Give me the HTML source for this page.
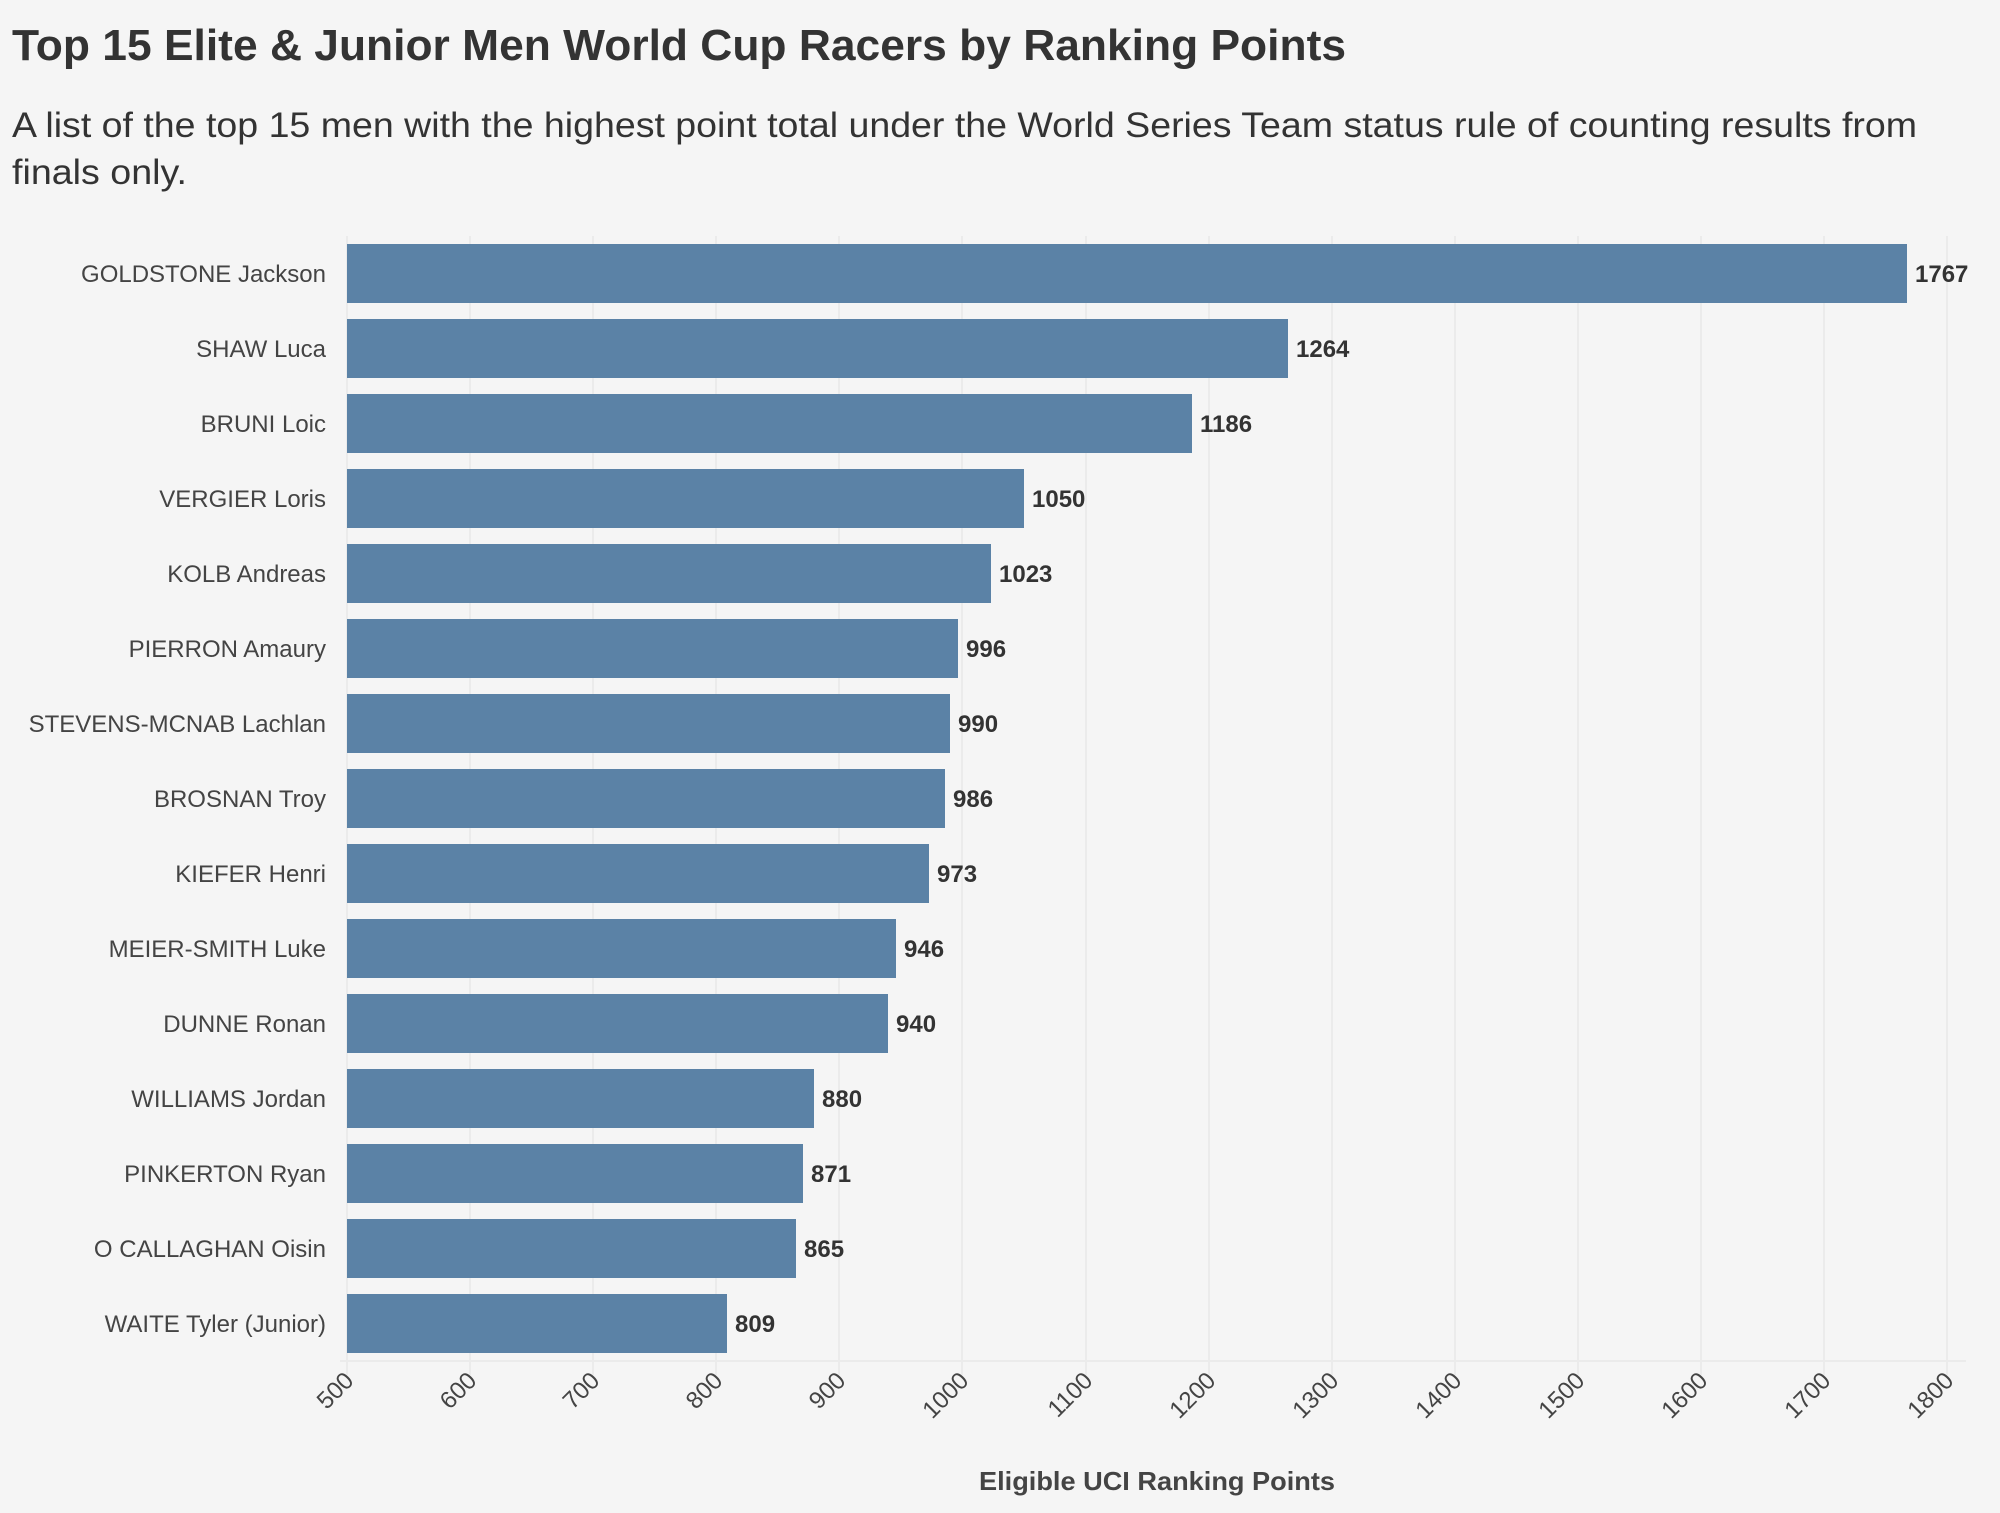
<!DOCTYPE html>
<html><head><meta charset="utf-8"><style>
html,body{margin:0;padding:0;background:#f5f5f5;}
svg{display:block;font-family:"Liberation Sans",sans-serif;}
</style></head><body>
<svg width="2000" height="1513" viewBox="0 0 2000 1513" xmlns="http://www.w3.org/2000/svg">
<rect width="2000" height="1513" fill="#f5f5f5"/>
<text x="12" y="60" font-size="44" font-weight="bold" fill="#333" textLength="1334" lengthAdjust="spacingAndGlyphs">Top 15 Elite &amp; Junior Men World Cup Racers by Ranking Points</text>
<text x="12" y="137" font-size="35" fill="#333" textLength="1905" lengthAdjust="spacingAndGlyphs">A list of the top 15 men with the highest point total under the World Series Team status rule of counting results from</text>
<text x="12" y="184" font-size="35" fill="#333" textLength="175" lengthAdjust="spacingAndGlyphs">finals only.</text>
<g id="grid" stroke="#ebebeb" stroke-width="2">
<line x1="347" y1="236" x2="347" y2="1375"/><line x1="470" y1="236" x2="470" y2="1375"/><line x1="593" y1="236" x2="593" y2="1375"/><line x1="716" y1="236" x2="716" y2="1375"/><line x1="839" y1="236" x2="839" y2="1375"/><line x1="962" y1="236" x2="962" y2="1375"/><line x1="1086" y1="236" x2="1086" y2="1375"/><line x1="1209" y1="236" x2="1209" y2="1375"/><line x1="1332" y1="236" x2="1332" y2="1375"/><line x1="1455" y1="236" x2="1455" y2="1375"/><line x1="1578" y1="236" x2="1578" y2="1375"/><line x1="1701" y1="236" x2="1701" y2="1375"/><line x1="1824" y1="236" x2="1824" y2="1375"/><line x1="1947" y1="236" x2="1947" y2="1375"/>
<line x1="340" y1="1361" x2="1966" y2="1361"/>
</g>
<g fill="#5b82a6">
<rect x="347" y="244" width="1560" height="59"/>
<rect x="347" y="319" width="941" height="59"/>
<rect x="347" y="394" width="845" height="59"/>
<rect x="347" y="469" width="677" height="59"/>
<rect x="347" y="544" width="644" height="59"/>
<rect x="347" y="619" width="611" height="59"/>
<rect x="347" y="694" width="603" height="59"/>
<rect x="347" y="769" width="598" height="59"/>
<rect x="347" y="844" width="582" height="59"/>
<rect x="347" y="919" width="549" height="59"/>
<rect x="347" y="994" width="541" height="59"/>
<rect x="347" y="1069" width="467" height="59"/>
<rect x="347" y="1144" width="456" height="59"/>
<rect x="347" y="1219" width="449" height="59"/>
<rect x="347" y="1294" width="380" height="59"/>
</g>
<g font-size="24" fill="#444" text-anchor="end">
<text x="326" y="282">GOLDSTONE Jackson</text>
<text x="326" y="357">SHAW Luca</text>
<text x="326" y="432">BRUNI Loic</text>
<text x="326" y="507">VERGIER Loris</text>
<text x="326" y="582">KOLB Andreas</text>
<text x="326" y="657">PIERRON Amaury</text>
<text x="326" y="732">STEVENS-MCNAB Lachlan</text>
<text x="326" y="807">BROSNAN Troy</text>
<text x="326" y="882">KIEFER Henri</text>
<text x="326" y="957">MEIER-SMITH Luke</text>
<text x="326" y="1032">DUNNE Ronan</text>
<text x="326" y="1107">WILLIAMS Jordan</text>
<text x="326" y="1182">PINKERTON Ryan</text>
<text x="326" y="1257">O CALLAGHAN Oisin</text>
<text x="326" y="1332">WAITE Tyler (Junior)</text>
</g>
<g font-size="24" font-weight="bold" fill="#333">
<text x="1915" y="282">1767</text>
<text x="1296" y="357">1264</text>
<text x="1200" y="432">1186</text>
<text x="1032" y="507">1050</text>
<text x="999" y="582">1023</text>
<text x="966" y="657">996</text>
<text x="958" y="732">990</text>
<text x="953" y="807">986</text>
<text x="937" y="882">973</text>
<text x="904" y="957">946</text>
<text x="896" y="1032">940</text>
<text x="822" y="1107">880</text>
<text x="811" y="1182">871</text>
<text x="804" y="1257">865</text>
<text x="735" y="1332">809</text>
</g>
<g font-size="24" fill="#444" text-anchor="end">
<text transform="translate(355,1382) rotate(-45)">500</text>
<text transform="translate(478,1382) rotate(-45)">600</text>
<text transform="translate(601,1382) rotate(-45)">700</text>
<text transform="translate(724,1382) rotate(-45)">800</text>
<text transform="translate(847,1382) rotate(-45)">900</text>
<text transform="translate(970,1382) rotate(-45)">1000</text>
<text transform="translate(1094,1382) rotate(-45)">1100</text>
<text transform="translate(1217,1382) rotate(-45)">1200</text>
<text transform="translate(1340,1382) rotate(-45)">1300</text>
<text transform="translate(1463,1382) rotate(-45)">1400</text>
<text transform="translate(1586,1382) rotate(-45)">1500</text>
<text transform="translate(1709,1382) rotate(-45)">1600</text>
<text transform="translate(1832,1382) rotate(-45)">1700</text>
<text transform="translate(1955,1382) rotate(-45)">1800</text>
</g>
<text x="1157" y="1490" font-size="26" font-weight="bold" fill="#444" text-anchor="middle" textLength="356" lengthAdjust="spacingAndGlyphs">Eligible UCI Ranking Points</text>
</svg>
</body></html>
